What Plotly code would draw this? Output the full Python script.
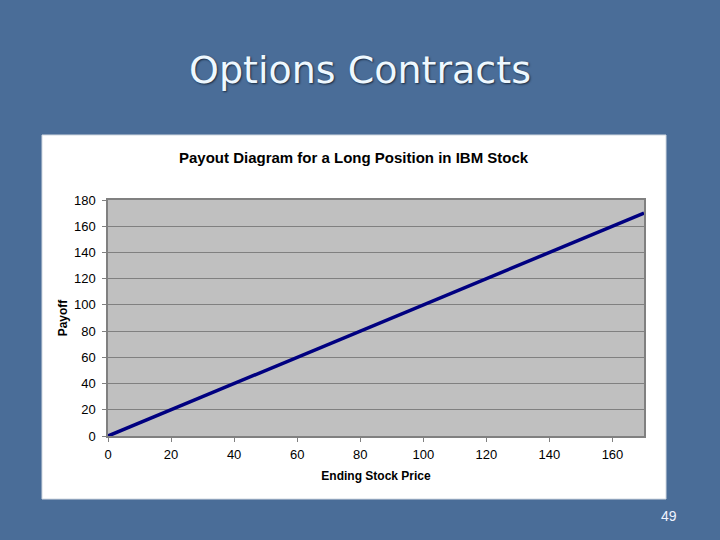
import plotly.graph_objects as go

# Data
stock_price = [0, 10, 20, 30, 40, 50, 60, 70, 80, 90, 100, 110, 120, 130, 140, 150, 160, 170]
payoff = [0, 10, 20, 30, 40, 50, 60, 70, 80, 90, 100, 110, 120, 130, 140, 150, 160, 170]
x_ticks = [0, 20, 40, 60, 80, 100, 120, 140, 160]
y_ticks = [0, 20, 40, 60, 80, 100, 120, 140, 160, 180]

BG = "#4a6d98"

# plot area pixels
L, R, T, B = 108, 644, 200, 436
W, H = R - L, B - T

def px(x):
    return (x - L) / W

def py(y):
    return (B - y) / H

fig = go.Figure()
fig.add_trace(go.Scatter(x=stock_price, y=payoff, mode="lines",
                         line=dict(color="#000080", width=3.5), showlegend=False))

fig.update_layout(
    width=720, height=540,
    margin=dict(l=L, r=720 - R, t=T, b=540 - B),
    paper_bgcolor=BG,
    plot_bgcolor="rgba(0,0,0,0)",
    font=dict(family="Liberation Sans, Arial", color="black", size=13),
    xaxis=dict(range=[0, 170], tickvals=x_ticks, showgrid=False, zeroline=False,
               ticks="outside", ticklen=4, tickcolor="#808080", ticklabelstandoff=2,
               showline=True, linecolor="#808080", linewidth=1.5, mirror=True,
               tickfont=dict(size=13, color="black"),
               title=dict(text="<b>Ending Stock Price</b>", font=dict(size=12), standoff=10)),
    yaxis=dict(range=[0, 180], tickvals=y_ticks, showgrid=True, gridcolor="#808080", gridwidth=1.2,
               zeroline=False, ticks="outside", ticklen=4, tickcolor="#808080", ticklabelstandoff=4,
               showline=True, linecolor="#808080", linewidth=1.5, mirror=True,
               tickfont=dict(size=13, color="black"),
               title=dict(text="<b>Payoff</b>", font=dict(size=12), standoff=4)),
    shapes=[
        dict(type="rect", xref="paper", yref="paper", layer="below",
             x0=px(42), x1=px(666), y0=py(499), y1=py(135),
             fillcolor="white", line=dict(color="#d0d8e0", width=1)),
        dict(type="rect", xref="paper", yref="paper", layer="below",
             x0=0, x1=1, y0=0, y1=1, fillcolor="#c0c0c0", line=dict(width=0)),
    ],
    annotations=[
        dict(text="Options Contracts", xref="paper", yref="paper", x=px(360), y=py(70),
             showarrow=False, xanchor="center", yanchor="middle",
             font=dict(family="DejaVu Sans", size=38, color="#eef8ff",
                       shadow="1px 1px 2px #1a2a40")),
        dict(text="<b>Payout Diagram for a Long Position in IBM Stock</b>", xref="paper", yref="paper",
             x=px(354), y=py(157), showarrow=False, xanchor="center", yanchor="middle",
             font=dict(size=15, color="black")),
        dict(text="49", xref="paper", yref="paper", x=px(669), y=py(516),
             showarrow=False, xanchor="center", yanchor="middle",
             font=dict(size=14, color="#f0f4ff")),
    ],
)

fig.write_html(
    "out.html",
    config={"displayModeBar": False},
    post_script=f"document.body.style.margin='0';document.body.style.background='{BG}';",
)
